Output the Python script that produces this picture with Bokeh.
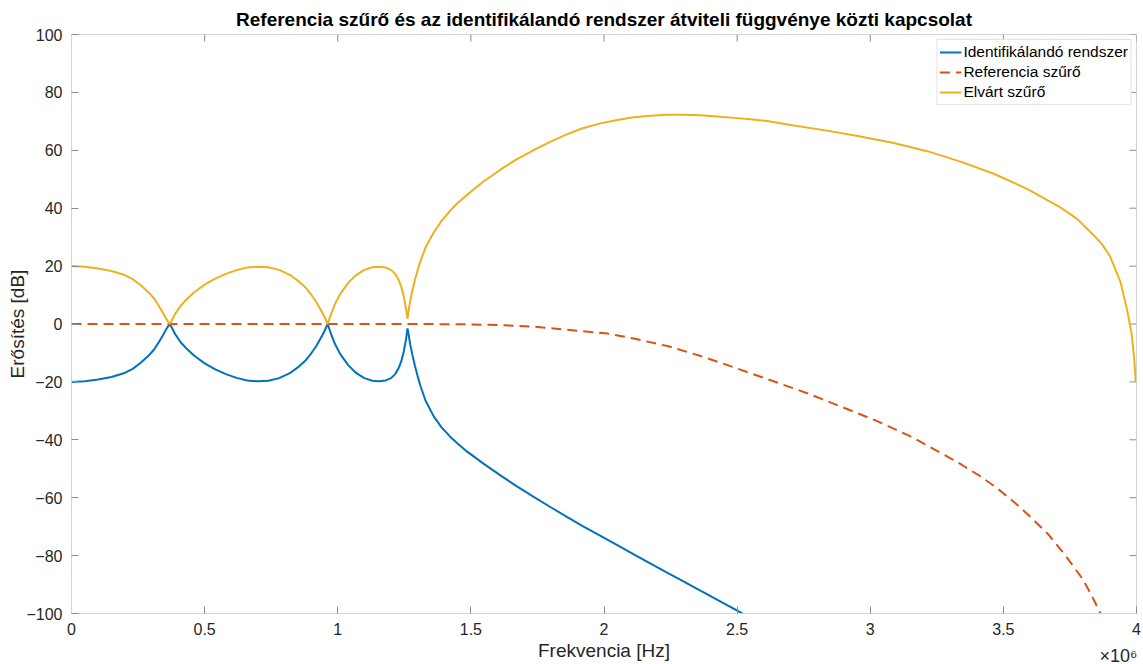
from bokeh.plotting import figure
from bokeh.models import Range1d, FixedTicker, Title
from bokeh.embed import file_html
from bokeh.resources import INLINE

# Frequencies in units of 1e6 Hz (axis shows x10^6)
freq_id = [0.00, 0.05, 0.10, 0.15, 0.20, 0.23, 0.26, 0.29, 0.31, 0.33, 0.345, 0.357, 0.369,
           0.38, 0.39, 0.41, 0.43, 0.46, 0.50, 0.54, 0.58, 0.62, 0.66, 0.70, 0.74, 0.78,
           0.82, 0.85, 0.88, 0.90, 0.92, 0.94, 0.95, 0.962, 0.975, 0.99, 1.01, 1.04, 1.07,
           1.10, 1.13, 1.155, 1.18, 1.20, 1.215, 1.228, 1.238, 1.248, 1.256, 1.262, 1.266,
           1.272, 1.280, 1.290, 1.300, 1.311, 1.330, 1.361, 1.39, 1.423, 1.45, 1.486, 1.55,
           1.611, 1.67, 1.736, 1.80, 1.862, 1.92, 1.987, 2.05, 2.112, 2.175, 2.237, 2.30,
           2.362, 2.44, 2.52]
gain_id = [-20.0, -19.8, -19.2, -18.3, -16.9, -15.5, -13.4, -10.9, -8.8, -6.0, -3.6, -1.6, 0.0,
           -1.8, -3.6, -6.3, -8.3, -10.9, -13.6, -15.7, -17.3, -18.6, -19.5, -19.8, -19.6, -18.7,
           -17.0, -15.0, -12.5, -10.2, -7.5, -4.2, -2.5, 0.0, -3.5, -7.0, -10.5, -14.3, -17.0,
           -18.7, -19.6, -19.8, -19.5, -18.7, -17.4, -15.4, -13.0, -9.5, -5.5, -1.5, -3.5,
           -7.0, -10.5, -14.5, -18.0, -21.5, -26.5, -32.0, -35.7, -39.0, -41.3, -44.1, -48.4,
           -52.3, -55.9, -59.7, -63.3, -66.7, -69.8, -73.2, -76.4, -79.6, -82.8, -85.9, -89.0,
           -92.1, -96.0, -100.0]

freq_ref = [0.0, 0.5, 1.0, 1.3, 1.486, 1.611, 1.736, 1.862, 2.013, 2.116, 2.246, 2.375, 2.504,
            2.634, 2.763, 2.892, 3.022, 3.151, 3.280, 3.345, 3.410, 3.475, 3.539, 3.60,
            3.668, 3.73, 3.798, 3.83, 3.865]
gain_ref = [0.0, 0.0, 0.0, 0.0, -0.1, -0.4, -0.9, -2.0, -3.3, -5.1, -7.8, -11.4, -15.5,
            -19.7, -23.9, -28.6, -33.4, -38.8, -45.3, -48.7, -52.4, -56.6, -61.4, -66.5,
            -72.6, -79.6, -88.1, -93.5, -100.0]

freq_exp = [0.00, 0.05, 0.10, 0.15, 0.20, 0.23, 0.26, 0.29, 0.31, 0.33, 0.345, 0.357, 0.369,
            0.38, 0.39, 0.41, 0.43, 0.46, 0.50, 0.54, 0.58, 0.62, 0.66, 0.70, 0.74, 0.78,
            0.82, 0.85, 0.88, 0.90, 0.92, 0.94, 0.95, 0.962, 0.975, 0.99, 1.01, 1.04, 1.07,
            1.10, 1.13, 1.155, 1.18, 1.20, 1.215, 1.228, 1.238, 1.248, 1.256, 1.262, 1.266,
            1.272, 1.280, 1.290, 1.300, 1.311, 1.330, 1.361, 1.39, 1.423, 1.45, 1.486, 1.52,
            1.55, 1.611, 1.67, 1.736, 1.80, 1.862, 1.92, 1.987, 2.05, 2.112, 2.175, 2.237,
            2.30, 2.362, 2.425, 2.488, 2.55, 2.613, 2.713, 2.838, 2.963, 3.088, 3.214, 3.339,
            3.464, 3.589, 3.714, 3.777, 3.840, 3.87, 3.90, 3.94, 3.965, 3.981, 3.991, 3.997]
gain_exp = [20.0, 19.8, 19.2, 18.3, 16.9, 15.5, 13.4, 10.9, 8.8, 6.0, 3.6, 1.6, 0.0,
            1.8, 3.6, 6.3, 8.3, 10.9, 13.6, 15.7, 17.3, 18.6, 19.5, 19.8, 19.6, 18.7,
            17.0, 15.0, 12.5, 10.2, 7.5, 4.2, 2.5, 0.0, 3.5, 7.0, 10.5, 14.3, 17.0,
            18.7, 19.6, 19.8, 19.5, 18.7, 17.4, 15.4, 13.0, 9.5, 5.5, 1.8, 4.5,
            8.0, 11.5, 15.3, 18.6, 21.8, 26.5, 31.7, 35.6, 39.2, 41.8, 44.6, 47.2,
            49.4, 53.3, 56.8, 60.1, 63.0, 65.6, 67.6, 69.3, 70.5, 71.4, 71.95, 72.25,
            72.3, 72.1, 71.7, 71.2, 70.7, 70.1, 68.6, 66.8, 64.8, 62.5, 59.7, 56.1,
            51.9, 46.7, 40.3, 36.3, 30.6, 27.6, 23.5, 14.5, 4.7, -3.0, -11.5, -20.0]

x_ticks = [0, 0.5, 1, 1.5, 2, 2.5, 3, 3.5, 4]
x_tick_labels = ["0", "0.5", "1", "1.5", "2", "2.5", "3", "3.5", "4"]
y_ticks = [-100, -80, -60, -40, -20, 0, 20, 40, 60, 80, 100]

title = "Referencia szűrő és az identifikálandó rendszer átviteli függvénye közti kapcsolat"
series_names = ["Identifikálandó rendszer", "Referencia szűrő", "Elvárt szűrő"]
x_multiplier = "×10⁶"

FONT = "Liberation Sans"
TICK_C = "#8c8c8c"
AXIS_C = "#d6d6d6"
TEXT_C = "#262626"

X0, X1, Y0, Y1 = 0, 4, -100, 100
FRAME_W, FRAME_H = 1065, 579
TICK_PX = 7

p = figure(width=1143, height=664, output_backend="svg", toolbar_location=None,
           x_range=Range1d(X0, X1), y_range=Range1d(Y0, Y1),
           min_border_left=71, min_border_right=7, min_border_top=34, min_border_bottom=51,
           title=title)
p.title.align = "center"
p.title.text_font = FONT
p.title.text_font_size = "19px"
p.title.text_font_style = "bold"
p.title.text_color = "#000000"
p.outline_line_color = AXIS_C
p.grid.visible = False

for ax in (p.xaxis[0], p.yaxis[0]):
    ax.major_tick_in = TICK_PX
    ax.major_tick_out = 0
    ax.minor_tick_line_color = None
    ax.major_tick_line_color = TICK_C
    ax.axis_line_color = AXIS_C
    ax.major_label_text_font = FONT
    ax.major_label_text_color = TEXT_C
    ax.major_label_text_font_size = "16px"
    ax.axis_label_text_font = FONT
    ax.axis_label_text_font_size = "19px"
    ax.axis_label_text_font_style = "normal"
    ax.axis_label_text_color = TEXT_C

xa = p.xaxis[0]
xa.ticker = FixedTicker(ticks=x_ticks)
xa.major_label_overrides = {t: l for t, l in zip(x_ticks, x_tick_labels)}
xa.major_label_standoff = 9
xa.axis_label = "Frekvencia [Hz]"
xa.axis_label_standoff = 2

ya = p.yaxis[0]
ya.ticker = FixedTicker(ticks=y_ticks)
ya.major_label_standoff = 9
ya.axis_label = "Erősítés [dB]"
ya.axis_label_standoff = -5

# inward tick marks on the top and right edges of the box
dy = TICK_PX * (Y1 - Y0) / FRAME_H
dx = TICK_PX * (X1 - X0) / FRAME_W
p.segment(x0=x_ticks, y0=[Y1] * len(x_ticks), x1=x_ticks, y1=[Y1 - dy] * len(x_ticks),
          line_color=TICK_C, line_width=1)
p.segment(x0=[X1] * len(y_ticks), y0=y_ticks, x1=[X1 - dx] * len(y_ticks), y1=y_ticks,
          line_color=TICK_C, line_width=1)

p.line(freq_id, gain_id, line_color="#0072BD", line_width=2, legend_label=series_names[0])
p.line(freq_ref, gain_ref, line_color="#D95319", line_width=2, line_dash="10 6",
       legend_label=series_names[1])
p.line(freq_exp, gain_exp, line_color="#EDB120", line_width=2, legend_label=series_names[2])

lg = p.legend[0]
lg.location = "top_right"
lg.margin = 5
lg.padding = 2
lg.spacing = 0
lg.glyph_width = 22
lg.glyph_height = 20
lg.label_height = 20
lg.label_standoff = 2
lg.label_text_font = FONT
lg.label_text_font_size = "15.5px"
lg.label_text_color = "#000000"
lg.border_line_color = "#c8c8c8"
lg.background_fill_alpha = 1.0

# "x10^6" exponent note under the right end of the x axis
mult = Title(text=x_multiplier, align="right", vertical_align="top", standoff=-36,
             offset=-1, text_font=FONT, text_font_size="18px", text_font_style="normal",
             text_color=TEXT_C)
p.add_layout(mult, "below")

open("out.html", "w").write(file_html(p, INLINE))
